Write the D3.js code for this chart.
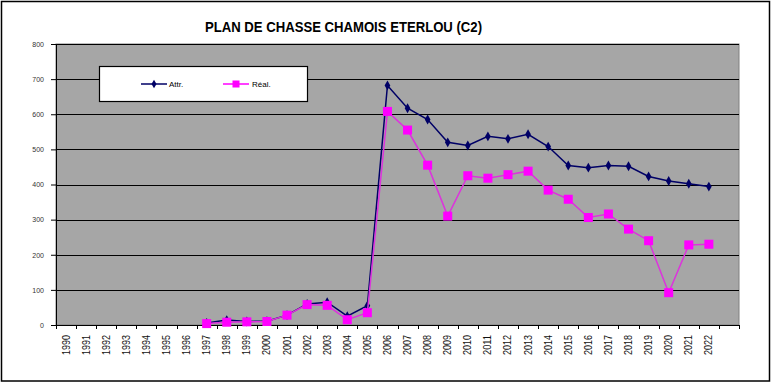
<!DOCTYPE html>
<html><head><meta charset="utf-8">
<script src="https://cdn.jsdelivr.net/npm/d3@7"></script>
<style>body{margin:0;background:#fff}svg{display:block}</style>
</head><body>
<svg id="c" width="772" height="384"></svg>
<script>
const years = ["1990","1991","1992","1993","1994","1995","1996","1997","1998","1999","2000","2001","2002","2003","2004","2005","2006","2007","2008","2009","2010","2011","2012","2013","2014","2015","2016","2017","2018","2019","2020","2021","2022",""];
const attrYears = ["1997","1998","1999","2000","2001","2002","2003","2004","2005","2006","2007","2008","2009","2010","2011","2012","2013","2014","2015","2016","2017","2018","2019","2020","2021","2022"];
const attr = [6,14,10,11,28,60,65,25,55,682,617,585,520,511,537,530,543,508,454,448,454,452,423,410,402,394];
const reel = [4,8,9,10,28,58,56,15,35,608,555,455,310,425,418,428,438,384,358,306,316,273,240,92,228,230];
const yTicks = [0,100,200,300,400,500,600,700,800];
const titleText = "PLAN DE CHASSE CHAMOIS ETERLOU (C2)";

const svg = d3.select("#c");
const L = 56, R = 739, T = 44, B = 325;
svg.append("rect").attr("x",1.5).attr("y",1.5).attr("width",768).attr("height",379.5)
  .attr("fill","#fff").attr("stroke","#000").attr("stroke-width",1.5);

const x = d3.scaleBand().domain(years).range([L,R]).paddingInner(0).paddingOuter(0);
const y = d3.scaleLinear().domain([0,800]).range([B,T]);

svg.append("rect").attr("x",L).attr("y",T).attr("width",R-L).attr("height",B-T)
  .attr("fill","#a6a6a6").attr("stroke","#808080").attr("stroke-width",1);

svg.append("g").selectAll("line").data(yTicks.filter(d=>d>0)).join("line")
  .attr("x1",L).attr("x2",R).attr("y1",d=>Math.round(y(d))+0.5).attr("y2",d=>Math.round(y(d))+0.5)
  .attr("stroke","#000").attr("stroke-width",1);

// y axis
const ya = svg.append("g").attr("transform",`translate(${L},0)`)
  .call(d3.axisLeft(y).tickValues(yTicks).tickSize(5).tickPadding(7));
ya.select(".domain").attr("stroke","#000");
ya.selectAll("line").attr("stroke","#000");
ya.selectAll("text").attr("font-family","Liberation Sans, Arial, sans-serif").attr("font-size","7px").attr("fill","#333");

// x axis with ticks at band boundaries
const xa = svg.append("g").attr("transform",`translate(0,${B})`);
xa.append("line").attr("x1",L).attr("x2",R).attr("y1",0.5).attr("y2",0.5).attr("stroke","#000");
xa.selectAll("line.t").data(d3.range(years.length+1)).join("line").attr("class","t")
  .attr("x1",i=>Math.round(L+i*x.bandwidth())+0.5).attr("x2",i=>Math.round(L+i*x.bandwidth())+0.5)
  .attr("y1",0).attr("y2",4).attr("stroke","#000");
xa.selectAll("text").data(years.filter(d=>d)).join("text")
  .attr("transform",d=>`translate(${x(d)+x.bandwidth()/2+3.5},10) rotate(-90)`)
  .attr("text-anchor","end")
  .attr("font-family","Liberation Sans, Arial, sans-serif")
  .attr("textLength",20).attr("lengthAdjust","spacingAndGlyphs")
  .attr("font-size","10px").attr("fill","#111").text(d=>d);

const cx = d => x(d)+x.bandwidth()/2;
const line = d3.line().x(d=>cx(d[0])).y(d=>y(d[1]));
const attrData = attrYears.map((d,i)=>[d,attr[i]]);
const reelData = attrYears.map((d,i)=>[d,reel[i]]);

svg.append("path").datum(attrData).attr("d",line).attr("fill","none").attr("stroke","#000066").attr("stroke-width",1.5);
svg.append("g").selectAll("path").data(attrData).join("path")
  .attr("d",d3.symbol(d3.symbolDiamond,28)).attr("transform",d=>`translate(${cx(d[0])},${y(d[1])})`)
  .attr("fill","#000066");

svg.append("path").datum(reelData).attr("d",line).attr("fill","none").attr("stroke","#dd33dd").attr("stroke-width",1.5);
svg.append("g").selectAll("rect").data(reelData).join("rect")
  .attr("x",d=>cx(d[0])-4.5).attr("y",d=>y(d[1])-4.5).attr("width",9).attr("height",9)
  .attr("fill","#ff00ff");

// legend
const lg = svg.append("g");
lg.append("rect").attr("x",99.5).attr("y",66.5).attr("width",208).attr("height",35)
  .attr("fill","#fff").attr("stroke","#000").attr("stroke-width",1.2);
lg.append("line").attr("x1",141).attr("x2",167).attr("y1",84).attr("y2",84).attr("stroke","#000066").attr("stroke-width",1.5);
lg.append("path").attr("d",d3.symbol(d3.symbolDiamond,22)).attr("transform","translate(154,84)").attr("fill","#000066");
lg.append("text").attr("x",169).attr("y",87).text("Attr.")
  .attr("font-family","Liberation Sans, Arial, sans-serif").attr("font-size","8px").attr("fill","#000");
lg.append("line").attr("x1",223).attr("x2",249).attr("y1",84).attr("y2",84).attr("stroke","#ff00ff").attr("stroke-width",1.5);
lg.append("rect").attr("x",232.5).attr("y",80.5).attr("width",7).attr("height",7).attr("fill","#ff00ff");
lg.append("text").attr("x",252).attr("y",87).text("Réal.")
  .attr("font-family","Liberation Sans, Arial, sans-serif").attr("font-size","8px").attr("fill","#000");

svg.append("text").attr("x",205).attr("y",32)
  .attr("font-family","Liberation Sans, Arial, sans-serif")
  .attr("textLength",277).attr("lengthAdjust","spacingAndGlyphs")
  .attr("font-size","15px").attr("font-weight","bold").attr("fill","#000").text(titleText);
</script>
</body></html>
